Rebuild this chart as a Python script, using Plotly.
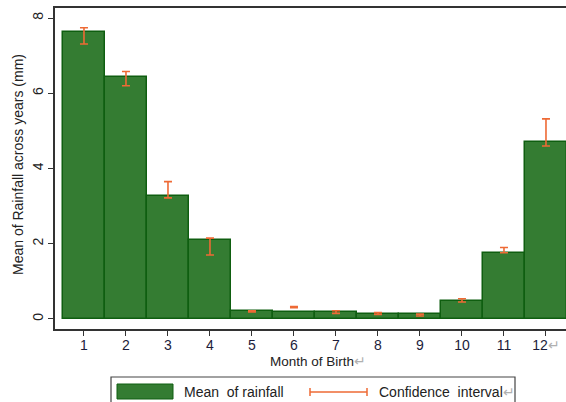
import plotly.graph_objects as go

# Mean monthly rainfall by month of birth, with confidence intervals
months = [1, 2, 3, 4, 5, 6, 7, 8, 9, 10, 11, 12]
month_labels = ["1", "2", "3", "4", "5", "6", "7", "8", "9", "10", "11",
                "12<span style='color:#b0b0b0'>↵</span>"]
mean_rain = [7.63, 6.43, 3.27, 2.10, 0.21, 0.18, 0.18, 0.13, 0.12, 0.48, 1.75, 4.71]
ci_low = [7.31, 6.20, 3.22, 1.70, 0.19, 0.30, 0.15, 0.12, 0.08, 0.45, 1.76, 4.60]
ci_high = [7.74, 6.58, 3.65, 2.15, 0.22, 0.33, 0.22, 0.17, 0.13, 0.54, 1.90, 5.32]
y_ticks = [0, 2, 4, 6, 8]

BAR_FILL = "#347c32"
BAR_EDGE = "#0f5e10"
CI_COLOR = "#ee6a35"
FONT = "Liberation Sans, Arial, sans-serif"

W, H = 566, 402
L, R, T, B = 55, 0, 8, 73
PW, PH = W - L - R, H - T - B


def px(x):
    return (x - L) / PW


def py(y):
    return (H - B - y) / PH


ci_mid = [(lo + hi) / 2 for lo, hi in zip(ci_low, ci_high)]
ci_half = [(hi - lo) / 2 for lo, hi in zip(ci_low, ci_high)]

fig = go.Figure()
fig.add_trace(go.Bar(
    x=months, y=mean_rain, width=1.0,
    marker=dict(color=BAR_FILL, line=dict(color=BAR_EDGE, width=1.5)),
    name="Mean of rainfall", showlegend=False,
))
fig.add_trace(go.Scatter(
    x=months, y=ci_mid, mode="markers",
    marker=dict(size=1, color="rgba(0,0,0,0)"),
    error_y=dict(type="data", array=ci_half, symmetric=True,
                 color=CI_COLOR, thickness=1.6, width=4),
    name="Confidence interval", showlegend=False,
))

shapes = []
annotations = []

# Legend frame and keys
shapes.append(dict(type="rect", xref="paper", yref="paper",
                   x0=px(111), x1=px(515), y0=py(377), y1=py(410),
                   line=dict(color="#444", width=1.2), fillcolor="white"))
shapes.append(dict(type="rect", xref="paper", yref="paper",
                   x0=px(117), x1=px(173), y0=py(384), y1=py(399),
                   line=dict(color=BAR_EDGE, width=1), fillcolor=BAR_FILL))
shapes.append(dict(type="line", xref="paper", yref="paper",
                   x0=px(310), x1=px(367), y0=py(392), y1=py(392),
                   line=dict(color=CI_COLOR, width=1.5)))
for xc in (310, 367):
    shapes.append(dict(type="line", xref="paper", yref="paper",
                       x0=px(xc), x1=px(xc), y0=py(388), y1=py(396),
                       line=dict(color=CI_COLOR, width=1.5)))
annotations.append(dict(xref="paper", yref="paper", x=px(182), y=py(392),
                        text="Mean  of rainfall", showarrow=False,
                        xanchor="left", yanchor="middle",
                        font=dict(family=FONT, size=14, color="#222")))
annotations.append(dict(xref="paper", yref="paper", x=px(377), y=py(392),
                        text="Confidence  interval<span style='color:#b0b0b0'>↵</span>",
                        showarrow=False, xanchor="left", yanchor="middle",
                        font=dict(family=FONT, size=14, color="#222")))

# Axis titles
annotations.append(dict(xref="paper", yref="paper", x=px(318), y=py(361),
                        text="Month of Birth<span style='color:#b0b0b0'>↵</span>",
                        showarrow=False, xanchor="center", yanchor="middle",
                        font=dict(family=FONT, size=13.5, color="#222")))
annotations.append(dict(xref="paper", yref="paper", x=px(18), y=py(165),
                        text="Mean of Rainfall across years (mm)",
                        textangle=-90, showarrow=False,
                        xanchor="center", yanchor="middle",
                        font=dict(family=FONT, size=14, color="#222")))

fig.update_layout(
    width=W, height=H,
    margin=dict(l=L, r=R, t=T, b=B),
    paper_bgcolor="white", plot_bgcolor="white",
    bargap=0, showlegend=False,
    font=dict(family=FONT, size=14, color="#222"),
    shapes=shapes, annotations=annotations,
)
fig.update_xaxes(
    range=[0.31, 0.31 + PW / 42.0],
    tickmode="array", tickvals=months, ticktext=month_labels,
    ticks="outside", ticklen=5, tickcolor="#333", tickwidth=1.2,
    ticklabelstandoff=-3,
    showline=True, linecolor="#333", linewidth=1.5, mirror=True,
    showgrid=False, zeroline=False,
    tickfont=dict(family=FONT, size=14, color="#1c1c3a"),
)
fig.update_yaxes(
    range=[-10 / 37.6, 8 + 10 / 37.6],
    tickmode="array", tickvals=y_ticks,
    ticks="outside", ticklen=5, tickcolor="#333", tickwidth=1.2,
    tickangle=-90,
    showline=True, linecolor="#333", linewidth=1.5,
    showgrid=False, zeroline=False,
    tickfont=dict(family=FONT, size=14, color="#222"),
)

fig.write_html("out.html")
